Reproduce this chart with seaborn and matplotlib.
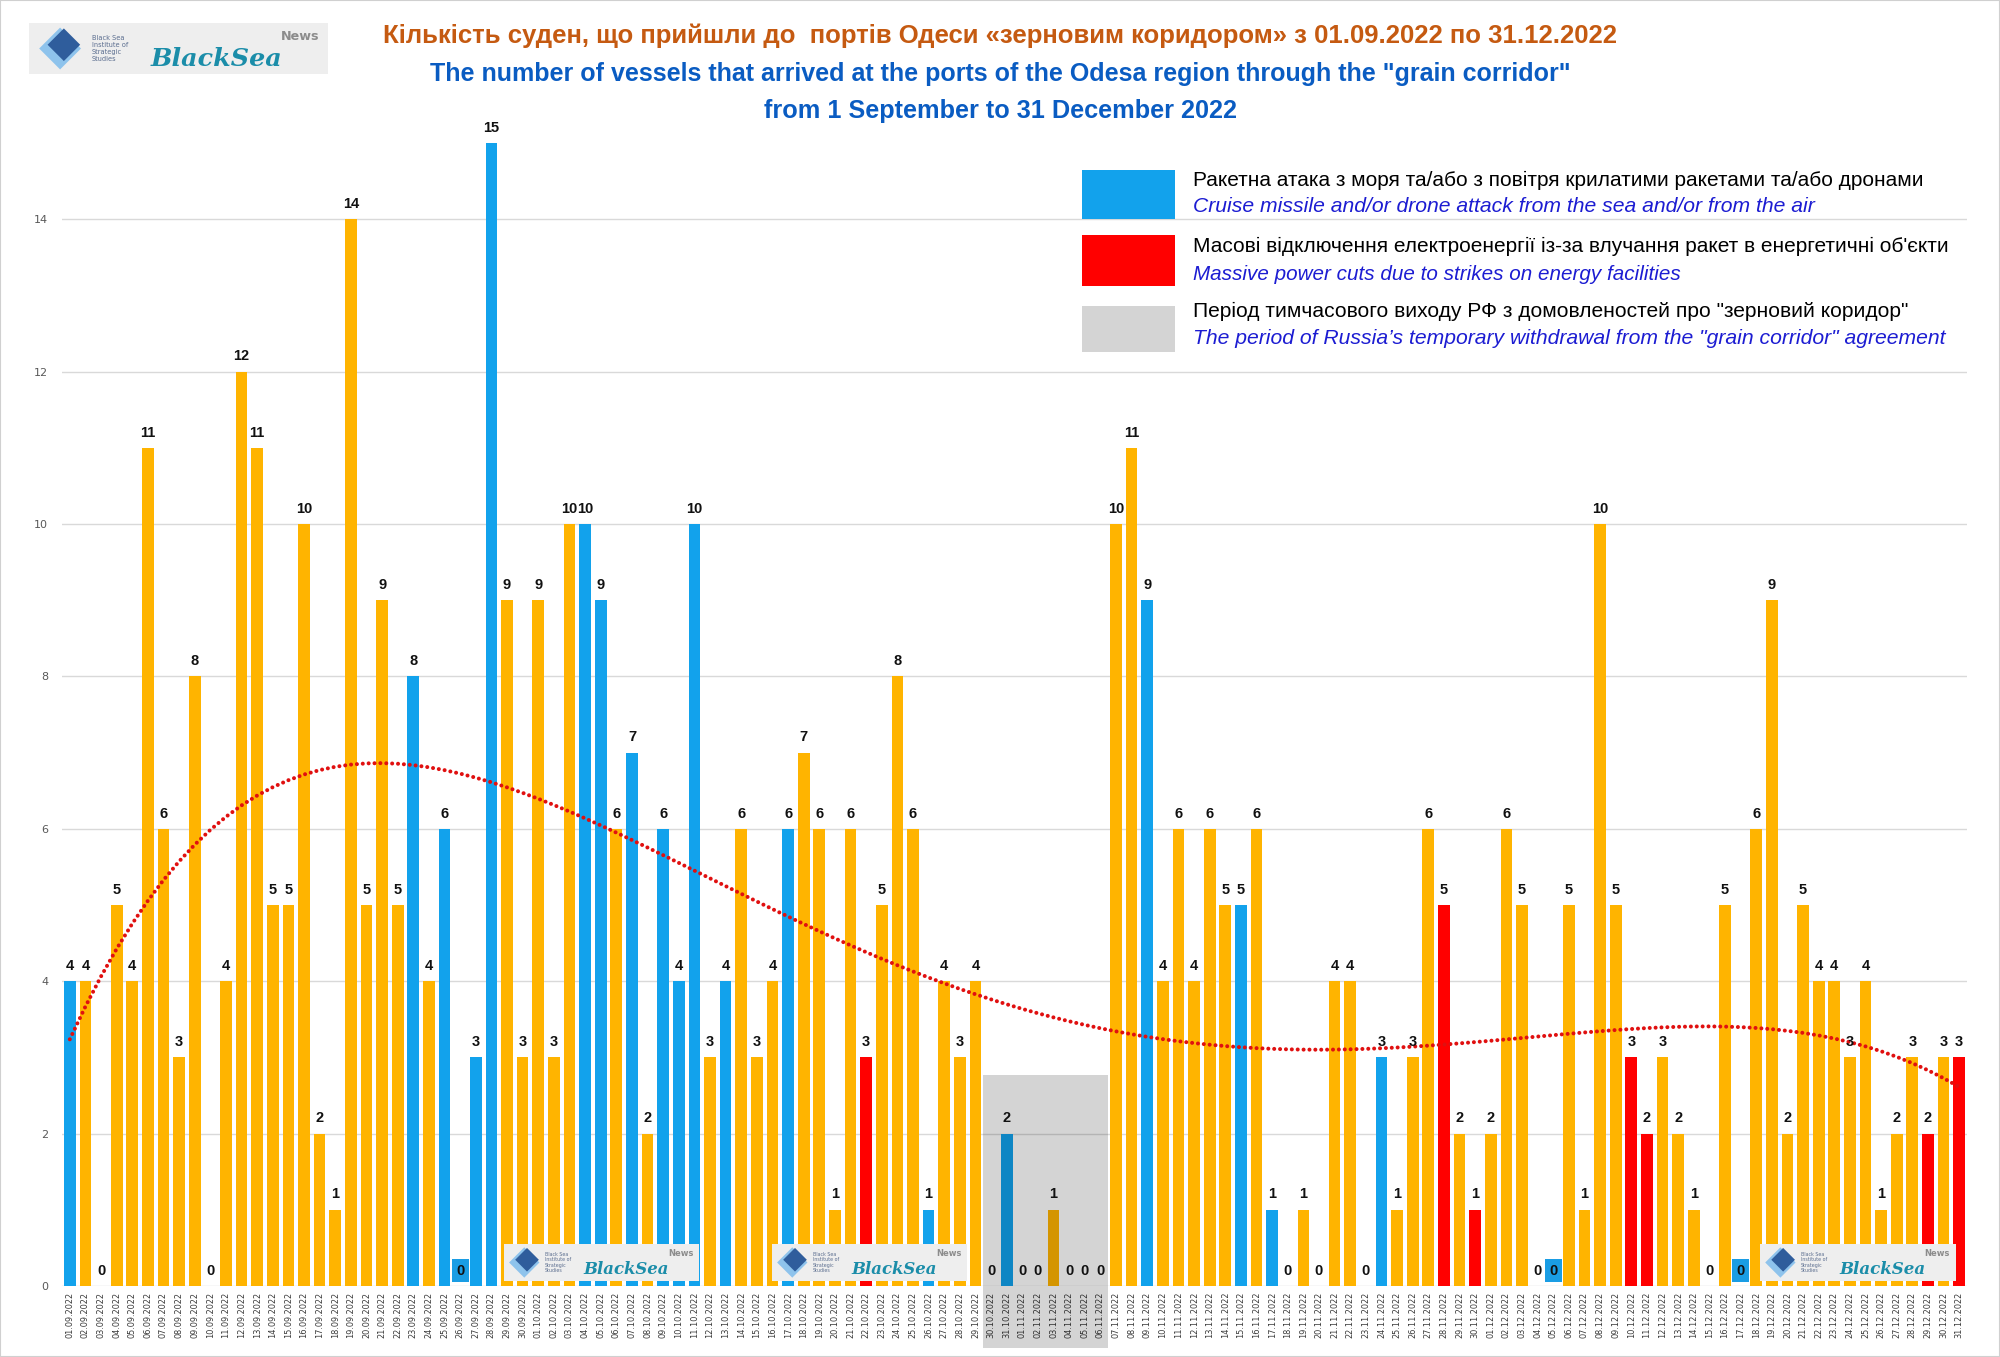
import numpy as np
import pandas as pd
import matplotlib
matplotlib.use("Agg")
import matplotlib.pyplot as plt
import seaborn as sns
from matplotlib.patches import Rectangle, Polygon

# ---------------- data ----------------
sep_vessels = [4, 4, 0, 5, 4, 11, 6, 3, 8, 0, 4, 12, 11, 5, 5, 10, 2, 1, 14, 5,
               9, 5, 8, 4, 6, 0, 3, 15, 9, 3]
oct_vessels = [9, 3, 10, 10, 9, 6, 7, 2, 6, 4, 10, 3, 4, 6, 3, 4, 6, 7, 6, 1,
               6, 3, 5, 8, 6, 1, 4, 3, 4, 0, 2]
nov_vessels = [0, 0, 1, 0, 0, 0, 10, 11, 9, 4, 6, 4, 6, 5, 5, 6, 1, 0, 1, 0,
               4, 4, 0, 3, 1, 3, 6, 5, 2, 1]
dec_vessels = [2, 6, 5, 0, 0, 5, 1, 10, 5, 3, 2, 3, 2, 1, 0, 5, 0, 6, 9, 2,
               5, 4, 4, 3, 4, 1, 2, 3, 2, 3, 3]
vessels = sep_vessels + oct_vessels + nov_vessels + dec_vessels
dates = pd.date_range("2022-09-01", "2022-12-31", freq="D").strftime("%d.%m.%Y").tolist()

attack_days = ["01.09.2022", "23.09.2022", "25.09.2022", "26.09.2022", "27.09.2022",
               "28.09.2022", "04.10.2022", "05.10.2022", "07.10.2022", "09.10.2022",
               "10.10.2022", "11.10.2022", "13.10.2022", "17.10.2022", "26.10.2022",
               "31.10.2022", "09.11.2022", "15.11.2022", "17.11.2022", "24.11.2022",
               "05.12.2022", "17.12.2022"]
power_days = ["22.10.2022", "28.11.2022", "30.11.2022", "10.12.2022", "11.12.2022",
              "29.12.2022", "31.12.2022"]
withdrawal_start, withdrawal_end = "30.10.2022", "06.11.2022"

title_ua = "Кількість суден, що прийшли до  портів Одеси «зерновим коридором» з 01.09.2022 по 31.12.2022"
title_en1 = 'The number of vessels that arrived at the ports of the Odesa region through the "grain corridor"'
title_en2 = "from 1 September to 31 December 2022"
legend_ua = ["Ракетна атака з моря та/або з повітря крилатими ракетами та/або дронами",
             "Масові відключення електроенергії із-за влучання ракет в енергетичні об'єкти",
             'Період тимчасового виходу РФ з домовленостей про "зерновий коридор"']
legend_en = ["Cruise missile and/or drone attack from the sea and/or from the air",
             "Massive power cuts due to strikes on energy facilities",
             "The period of Russia\u2019s temporary withdrawal from the \"grain corridor\" agreement"]

# ---------------- style ----------------
ORANGE, BLUE, RED, GRAY = "#FFB400", "#12A2EC", "#FF0000", "#D4D4D4"
palette = {"normal": ORANGE, "attack": BLUE, "power": RED}

plt.rcParams["font.family"] = ["Liberation Sans Narrow", "Liberation Sans", "DejaVu Sans"]

df = pd.DataFrame({"date": dates, "vessels": vessels})
df["type"] = np.where(df["date"].isin(attack_days), "attack",
                      np.where(df["date"].isin(power_days), "power", "normal"))

W, H = 2000, 1357
fig = plt.figure(figsize=(W / 100, H / 100), dpi=100)
fig.patch.set_facecolor("white")
ax = fig.add_axes([62 / W, 1 - 1286 / H, (1967 - 62) / W, (1286 - 105) / H])

sns.barplot(data=df, x="date", y="vessels", hue="type", order=dates, palette=palette,
            dodge=False, width=0.75, saturation=1, legend=False, ax=ax, zorder=2)

ax.set_xlim(-0.5, len(dates) - 0.5)
ax.set_ylim(0, 15.5)
ax.set_yticks(range(0, 15, 2))
ax.set_axisbelow(True)
ax.grid(axis="y", color="#D9D9D9", linewidth=1)
ax.grid(axis="x", visible=False)
for s in ax.spines.values():
    s.set_visible(False)
ax.set_xlabel("")
ax.set_ylabel("")
ax.tick_params(axis="y", length=0, pad=10, labelsize=8, labelcolor="#595959")
ax.tick_params(axis="x", length=0, pad=4, labelsize=5.9, labelcolor="#3A3A3A", labelrotation=90)
for lbl in ax.get_xticklabels():
    lbl.set_fontfamily("DejaVu Sans")
for lbl in ax.get_yticklabels():
    lbl.set_fontfamily("DejaVu Sans")

# withdrawal period overlay
i0, i1 = dates.index(withdrawal_start), dates.index(withdrawal_end)
ax.add_patch(Rectangle((i0 - 0.5, -0.82), i1 - i0 + 1, 3.59, facecolor="black", alpha=0.17,
                       edgecolor="none", zorder=4, clip_on=False))

# trend line (6th order polynomial, like Excel)
xs = np.arange(len(vessels))
trend = np.polynomial.Polynomial.fit(xs + 1, vessels, 6)(xs + 1)
ax.plot(xs, trend, color="#E01010", linewidth=2.9, linestyle=(0, (0.01, 1.45)),
        dash_capstyle="round", zorder=5)

# data labels
for i, (v, t) in enumerate(zip(vessels, df["type"])):
    kw = dict(ha="center", va="bottom", fontsize=10.5, fontweight="bold",
              family=["Liberation Sans", "DejaVu Sans"], zorder=6,
              xytext=(0, 6), textcoords="offset points", color="#111111")
    if v == 0 and t == "attack":
        kw["bbox"] = dict(boxstyle="square,pad=0.3", fc="#1A9DE4", ec="none")
    ax.annotate(str(v), (i, v), **kw)

# ---------------- texts ----------------
fig.canvas.draw()
rend = fig.canvas.get_renderer()


def fit(t, target):
    w = t.get_window_extent(renderer=rend).width
    t.set_fontsize(t.get_fontsize() * target / w)


t1 = fig.text(0.5, 1 - 36 / H, title_ua, ha="center", va="center", fontsize=20,
              fontweight="bold", color="#C55A11")
t2 = fig.text(0.5, 1 - 74 / H, title_en1, ha="center", va="center", fontsize=20,
              fontweight="bold", color="#0A5CC2")
t3 = fig.text(0.5, 1 - 111 / H, title_en2, ha="center", va="center", fontsize=20,
              fontweight="bold", color="#0A5CC2")
for t, w in [(t1, 1234), (t2, 1139), (t3, 474)]:
    fit(t, w)

# legend
patch_y = [(170, 219), (235, 286), (306, 352)]
patch_c = [BLUE, RED, GRAY]
text_y = [(180, 207), (246, 274), (311, 339)]
ua_w = [737, 761, 718]
en_w = [622, 488, 756]
for (ya, yb), c, (ty1, ty2), ua, en, wu, we in zip(patch_y, patch_c, text_y, legend_ua,
                                                   legend_en, ua_w, en_w):
    fig.add_artist(Rectangle((1082 / W, 1 - yb / H), (1175 - 1082) / W, (yb - ya) / H,
                             transform=fig.transFigure, facecolor=c, edgecolor="none"))
    a = fig.text(1193 / W, 1 - ty1 / H, ua, ha="left", va="center", fontsize=14, color="black")
    b = fig.text(1193 / W, 1 - ty2 / H, en, ha="left", va="center", fontsize=14,
                 color="#1C1CD2", style="italic")
    fit(a, wu)
    fit(b, we)


# logos
def draw_logo(x, y, w, h):
    def F(px, py):
        return (px / W, 1 - py / H)
    fig.add_artist(Rectangle(F(x, y + h), w / W, h / H, transform=fig.transFigure,
                             facecolor="#EEEEEE", edgecolor="none", zorder=10))
    cx, cy, r = x + 0.104 * w, y + 0.5 * h, 0.41 * h
    fig.add_artist(Polygon([F(cx, cy - r), F(cx + r, cy), F(cx, cy + r), F(cx - r, cy)],
                           closed=True, transform=fig.transFigure, facecolor="#8EC3EC",
                           edgecolor="none", zorder=11))
    dx, dy, rr = cx + 0.18 * r, cy - 0.18 * r, 0.78 * r
    fig.add_artist(Polygon([F(dx, dy - rr), F(dx + rr, dy), F(dx, dy + rr), F(dx - rr, dy)],
                           closed=True, transform=fig.transFigure, facecolor="#2F5D9C",
                           edgecolor="none", zorder=12))
    fig.text(*F(x + 0.21 * w, y + 0.5 * h), "Black Sea\nInstitute of\nStrategic\nStudies",
             ha="left", va="center", fontsize=0.13 * h * 0.72, color="#5B6E8F",
             linespacing=1.15, zorder=12, family="DejaVu Sans")
    bs = fig.text(*F(x + 0.405 * w, y + 0.70 * h), "BlackSea", ha="left", va="center",
                  fontsize=20, color="#1B8DA9", style="italic", fontweight="bold",
                  family="DejaVu Serif", zorder=12)
    fit(bs, 0.44 * w)
    nw = fig.text(*F(x + 0.97 * w, y + 0.27 * h), "News", ha="right", va="center",
                  fontsize=10, color="#8C8C8C", fontweight="bold", family="DejaVu Sans",
                  zorder=13)
    fit(nw, 0.13 * w)


draw_logo(29, 23, 299, 51)
draw_logo(504, 1244, 195, 37)
draw_logo(772, 1244, 195, 37)
draw_logo(1760, 1244, 196, 37)

fig.add_artist(Rectangle((0, 0), 1, 1, transform=fig.transFigure, facecolor="none",
                         edgecolor="#D0D0D0", linewidth=1.5, zorder=20))

fig.savefig("out.png", dpi=100)
